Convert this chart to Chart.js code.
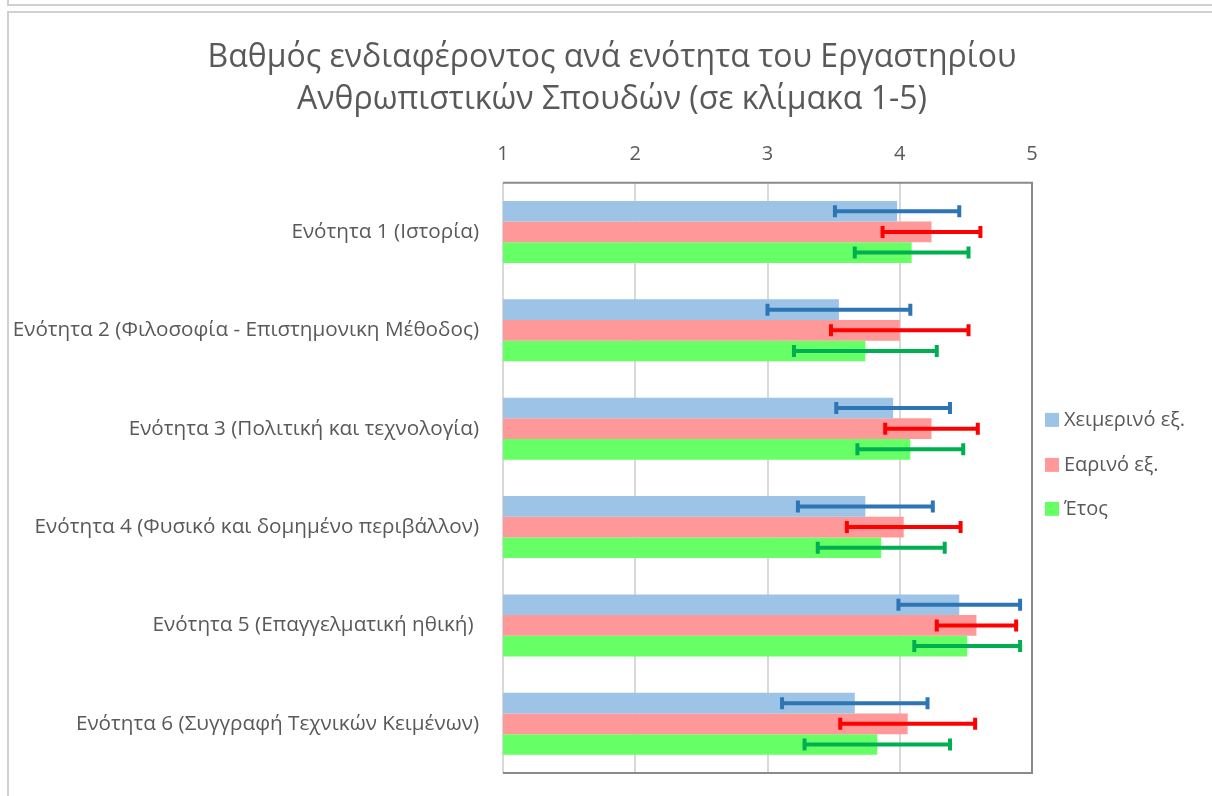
<!DOCTYPE html>
<html>
<head>
<meta charset="utf-8">
<script src="https://cdn.jsdelivr.net/npm/chart.js@4/dist/chart.umd.min.js"></script>
<style>
html,body{margin:0;padding:0;background:#fff;}
#wrap{position:relative;width:1212px;height:796px;}
</style>
</head>
<body>
<div id="wrap"><canvas id="c" width="1212" height="796"></canvas></div>
<script>
const titleLines = ["Βαθμός ενδιαφέροντος ανά ενότητα του Εργαστηρίου", "Ανθρωπιστικών Σπουδών (σε κλίμακα 1-5)"];
const categories = [
  "Ενότητα 1 (Ιστορία)",
  "Ενότητα 2 (Φιλοσοφία - Επιστημονικη Μέθοδος)",
  "Ενότητα 3 (Πολιτική και τεχνολογία)",
  "Ενότητα 4 (Φυσικό και δομημένο περιβάλλον)",
  "Ενότητα 5 (Επαγγελματική ηθική) ",
  "Ενότητα 6 (Συγγραφή Τεχνικών Κειμένων)"
];
const seriesNames = ["Χειμερινό εξ.", "Εαρινό εξ.", "Έτος"];
const winterValues = [3.98, 3.54, 3.95, 3.74, 4.45, 3.66];
const springValues = [4.24, 4.00, 4.24, 4.03, 4.58, 4.06];
const yearValues   = [4.09, 3.74, 4.08, 3.86, 4.51, 3.83];
const winterErr = [0.47, 0.54, 0.43, 0.51, 0.46, 0.55];
const springErr = [0.37, 0.52, 0.35, 0.43, 0.30, 0.51];
const yearErr   = [0.43, 0.54, 0.40, 0.48, 0.40, 0.55];
const xTicks = [1, 2, 3, 4, 5];

const FONT = "'Open Sans', 'Noto Sans', sans-serif";
const GREY = "#595959";

const errorBars = {
  id: 'errorBars',
  afterDatasetsDraw(chart) {
    const ctx = chart.ctx;
    const xs = chart.scales.x;
    chart.data.datasets.forEach((ds, i) => {
      const meta = chart.getDatasetMeta(i);
      if (meta.hidden) return;
      meta.data.forEach((el, j) => {
        const v = ds.data[j], e = ds.errors[j];
        const x1 = xs.getPixelForValue(v - e), x2 = xs.getPixelForValue(v + e);
        const y = el.y;
        ctx.save();
        ctx.strokeStyle = ds.errorColor;
        ctx.lineWidth = 4;
        ctx.beginPath(); ctx.moveTo(x1, y); ctx.lineTo(x2, y); ctx.stroke();
        ctx.beginPath();
        ctx.moveTo(x1, y - 6); ctx.lineTo(x1, y + 6);
        ctx.moveTo(x2, y - 6); ctx.lineTo(x2, y + 6);
        ctx.stroke();
        ctx.restore();
      });
    });
  }
};

const frame = {
  id: 'frame',
  beforeDraw(chart) {
    const ctx = chart.ctx;
    ctx.save();
    ctx.strokeStyle = '#d0d0d0';
    ctx.lineWidth = 2;
    ctx.beginPath();
    ctx.moveTo(8, 0); ctx.lineTo(8, 5); ctx.lineTo(1212, 5);
    ctx.moveTo(1212, 12); ctx.lineTo(8, 12); ctx.lineTo(8, 796);
    ctx.stroke();
    ctx.restore();
  },
  afterDatasetsDraw(chart) {
    const a = chart.chartArea, ctx = chart.ctx;
    ctx.save();
    ctx.strokeStyle = '#8a8a8a';
    ctx.lineWidth = 2;
    ctx.beginPath();
    ctx.moveTo(a.left, a.top); ctx.lineTo(a.right, a.top);
    ctx.lineTo(a.right, a.bottom); ctx.lineTo(a.left, a.bottom);
    ctx.stroke();
    ctx.restore();
  }
};

const sideLegend = {
  id: 'sideLegend',
  afterDraw(chart) {
    const a = chart.chartArea, ctx = chart.ctx;
    const cy = (a.top + a.bottom) / 2;
    const offsets = [-58, -13, 31];
    ctx.save();
    ctx.font = "20px " + FONT;
    ctx.textBaseline = 'middle';
    ctx.textAlign = 'left';
    chart.data.datasets.forEach((ds, i) => {
      const y = cy + offsets[i];
      ctx.fillStyle = ds.backgroundColor;
      ctx.fillRect(a.right + 13, y - 7, 14, 14);
      ctx.fillStyle = GREY;
      ctx.fillText(ds.label, a.right + 32, y);
    });
    ctx.restore();
  }
};

new Chart(document.getElementById('c'), {
  type: 'bar',
  data: {
    labels: categories,
    datasets: [
      { label: seriesNames[0], data: winterValues, errors: winterErr, errorColor: '#2e75b6', backgroundColor: '#9dc3e6' },
      { label: seriesNames[1], data: springValues, errors: springErr, errorColor: '#ff0000', backgroundColor: '#ff9999' },
      { label: seriesNames[2], data: yearValues, errors: yearErr, errorColor: '#00b050', backgroundColor: '#66ff66' }
    ]
  },
  options: {
    indexAxis: 'y',
    responsive: false,
    animation: false,
    devicePixelRatio: 1,
    datasets: { bar: { barPercentage: 1, categoryPercentage: 0.63, borderWidth: 0 } },
    layout: { padding: { top: 24, bottom: 23, left: 12, right: 0 } },
    plugins: {
      title: {
        display: true,
        text: titleLines,
        color: GREY,
        font: { family: FONT, size: 32, weight: 'normal', lineHeight: 1.34 },
        padding: { top: 12, bottom: 10 }
      },
      legend: { display: false },
      tooltip: { enabled: false }
    },
    scales: {
      x: {
        position: 'top',
        min: 1, max: 5,
        afterBuildTicks(s) { s.ticks = xTicks.map(v => ({ value: v })); },
        ticks: { color: GREY, font: { family: FONT, size: 20 }, padding: 16 },
        grid: { color: '#d9d9d9', lineWidth: 2, drawTicks: false },
        border: { display: false },
        afterFit(s) { s.height = 51; }
      },
      y: {
        ticks: { color: GREY, font: { family: FONT, size: 20.7 }, padding: 24 },
        grid: { display: false, drawTicks: false },
        border: { display: false },
        afterFit(s) { s.width = 491; s.paddingTop = 0; s.paddingBottom = 0; }
      },
      yRight: {
        position: 'right',
        display: true,
        ticks: { display: false },
        grid: { display: false, drawTicks: false },
        border: { display: false },
        afterFit(s) { s.width = 180; s.paddingTop = 0; s.paddingBottom = 0; }
      }
    }
  },
  plugins: [errorBars, frame, sideLegend]
});
</script>
</body>
</html>
